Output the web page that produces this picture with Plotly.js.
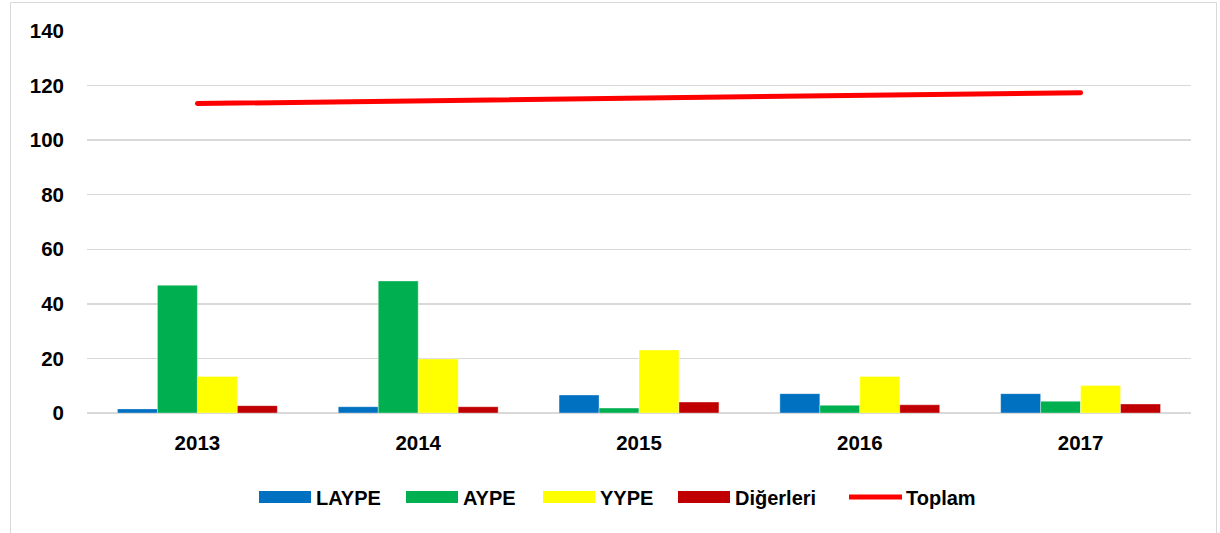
<!DOCTYPE html>
<html>
<head>
<meta charset="utf-8">
<script src="https://cdn.plot.ly/plotly-3.0.1.min.js"></script>
<style>html,body{margin:0;padding:0;background:#fff;}#chart{width:1220px;height:533px;}
#chart .scatterlayer path.js-line{stroke-linecap:round;}</style>
</head>
<body>
<div id="chart"></div>
<script>
// ---- data ----
const years = ['2013', '2014', '2015', '2016', '2017'];
const laype = [1.5, 2.3, 6.6, 7.1, 7.1];
const aype = [46.8, 48.4, 1.8, 2.8, 4.3];
const yype = [13.4, 19.8, 23.1, 13.4, 10.1];
const digerleri = [2.7, 2.3, 4.0, 3.0, 3.3];
const toplam = [113.4, 114.4, 115.4, 116.4, 117.4];
const seriesNames = ['LAYPE', 'AYPE', 'YYPE', 'Diğerleri', 'Toplam'];
const yTicks = [0, 20, 40, 60, 80, 100, 120, 140];

// ---- style ----
const colors = ['#0070C0', '#00B050', '#FFFF00', '#C00000', '#FF0000'];
const FONT = 'Liberation Sans, Arial, sans-serif';
const W = 1220, H = 533;
const M = {l: 87, r: 29, t: 31, b: 120};
const plotW = W - M.l - M.r, plotH = H - M.t - M.b;

const barSeries = [laype, aype, yype, digerleri];
const traces = barSeries.map((vals, i) => ({
  type: 'bar', x: years, y: vals, name: seriesNames[i],
  marker: {color: colors[i], line: {width: 0.6, color: 'rgba(255,255,255,0.6)'}},
  showlegend: false, hoverinfo: 'x+y+name'
}));
traces.push({
  type: 'scatter', mode: 'lines', x: years, y: toplam, name: seriesNames[4],
  line: {color: colors[4], width: 5}, showlegend: false
});

// ---- custom legend (wide swatches like the original) ----
const legendBoxLeftPx = [259, 406, 543, 678, 847];
const swatchW = 52, swatchH = 12, legendYpx = 497;
const px2x = px => (px - M.l) / plotW;
const py2y = py => (H - M.b - py) / plotH;
const shapes = [];
const annotations = [];
seriesNames.forEach((nm, i) => {
  const x0 = legendBoxLeftPx[i];
  if (i < 4) {
    shapes.push({type: 'rect', xref: 'paper', yref: 'paper',
      x0: px2x(x0), x1: px2x(x0 + swatchW),
      y0: py2y(legendYpx - swatchH / 2), y1: py2y(legendYpx + swatchH / 2),
      fillcolor: colors[i], line: {width: 0}});
  } else {
    shapes.push({type: 'line', xref: 'paper', yref: 'paper',
      x0: px2x(x0 + 2), x1: px2x(x0 + swatchW + 3),
      y0: py2y(legendYpx), y1: py2y(legendYpx),
      line: {color: colors[i], width: 5}});
  }
  annotations.push({xref: 'paper', yref: 'paper', x: px2x(x0 + swatchW + (i < 4 ? 3 : 5)),
    y: py2y(legendYpx + 1), xanchor: 'left', yanchor: 'middle', showarrow: false,
    text: nm, font: {family: FONT, size: 20, color: '#000', weight: 'bold'}});
});
// outer chart border
shapes.push({type: 'rect', xref: 'paper', yref: 'paper',
  x0: px2x(10.5), x1: px2x(1216.5), y0: py2y(2.5), y1: py2y(560),
  line: {color: '#d9d9d9', width: 1}, fillcolor: 'rgba(0,0,0,0)', layer: 'below'});

const layout = {
  width: W, height: H, margin: M,
  paper_bgcolor: '#fff', plot_bgcolor: '#fff',
  barmode: 'group', bargap: 0.276, bargroupgap: 0,
  showlegend: false,
  font: {family: FONT, size: 20, color: '#000'},
  xaxis: {type: 'category', showgrid: false, zeroline: false, showline: false,
    ticks: '', ticklabelstandoff: 15,
    tickfont: {family: FONT, size: 20.5, color: '#000', weight: 'bold'}},
  yaxis: {range: [0, 140], tickvals: yTicks, ticktext: yTicks.map(String),
    showgrid: true, gridcolor: '#d9d9d9', gridwidth: 1.5,
    zeroline: true, zerolinecolor: '#d9d9d9', zerolinewidth: 2,
    showline: false, ticks: '', ticklabelstandoff: 22,
    tickfont: {family: FONT, size: 20.5, color: '#000', weight: 'bold'}},
  shapes: shapes, annotations: annotations
};

Plotly.newPlot('chart', traces, layout, {staticPlot: true, displayModeBar: false});
</script>
</body>
</html>
